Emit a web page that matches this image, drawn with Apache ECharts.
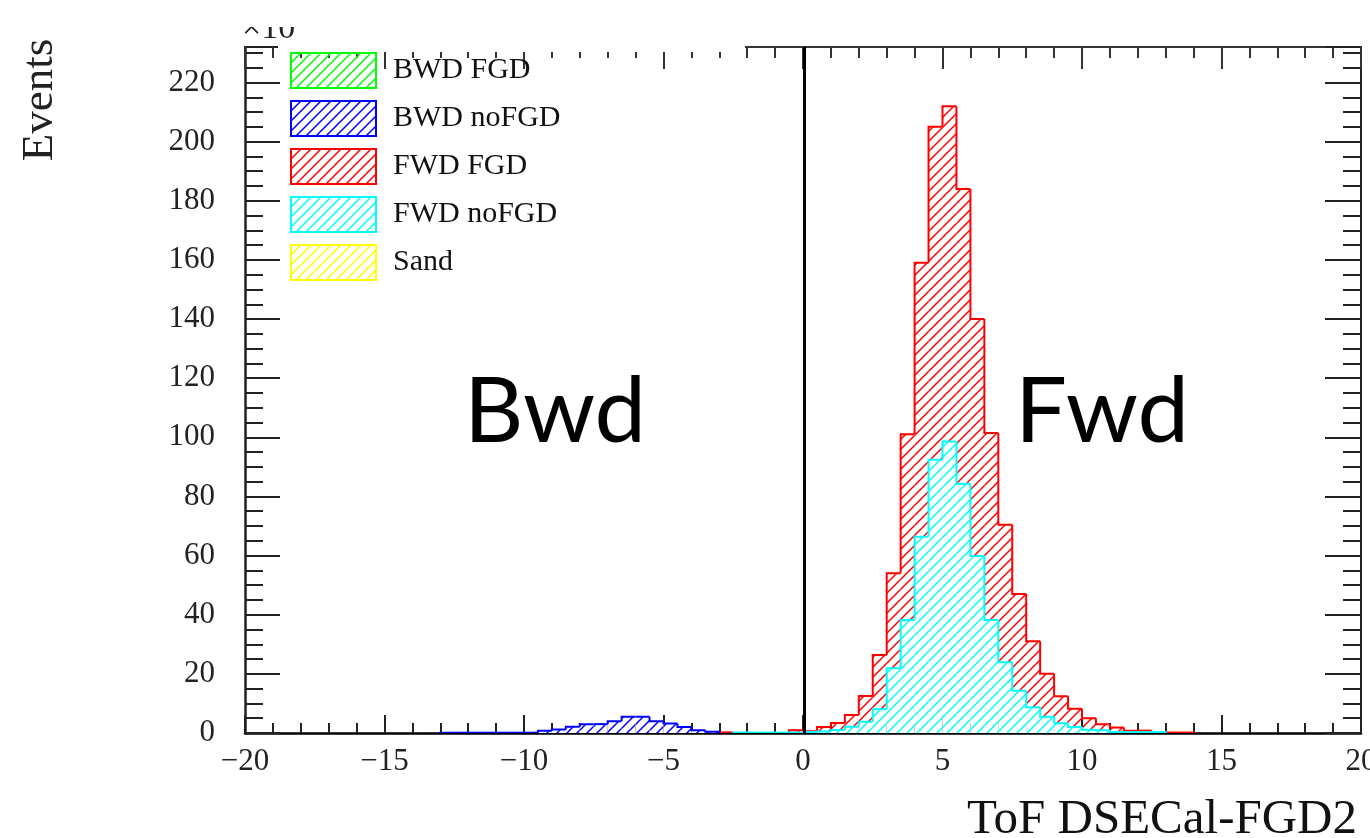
<!DOCTYPE html>
<html>
<head>
<meta charset="utf-8">
<script src="https://cdn.jsdelivr.net/npm/echarts@6/dist/echarts.min.js"></script>
<style>
html,body{margin:0;padding:0;background:#fff;}
#chart{width:1370px;height:838px;}
</style>
</head>
<body>
<div id="chart"></div>
<script>
// ---------------- data (bin contents in units of x10 events) ----------------
const binWidth = 0.5;
const xMin = -20, xMax = 20, yMax = 232;
const seriesNames  = ['BWD FGD', 'BWD noFGD', 'FWD FGD', 'FWD noFGD', 'Sand'];
const seriesColors = ['#00ff00', '#0000ff', '#ff0000', '#00ffff', '#ffff00'];

const bwdFgdStart = 0;
const bwdFgdCounts = [];

const bwdNoFgdStart = -13;
const bwdNoFgdCounts = [0.1, 0.1, 0.1, 0.1, 0.1, 0.1, 0.1,
  0.8, 1.2, 2.1, 3.0, 3.0, 4.0, 5.5, 5.5, 4.0, 3.2, 2.0, 0.9, 0.4];

const fwdFgdStart = -3.5;
const fwdFgdCounts = [0.2, 0.2, 0, 0, 0, 0, 0.9,
  0.6, 2.0, 3.4, 6.1, 12.5, 26.4, 54, 101, 159, 205, 212, 184, 140, 101.5,
  70.4, 47, 31, 20, 12.4, 8.2, 5.0, 3.0, 1.9, 0.8, 0.8, 0.3, 0.2, 0.2];

const fwdNoFgdStart = -2.5;
const fwdNoFgdCounts = [0.15, 0.15, 0.15, 0.15, 0.15,
  0.3, 0.5, 1.0, 2.1, 3.8, 8.0, 21.9, 38.2, 66.4, 92.4, 98.6, 84.3, 59.9, 38.2,
  23.9, 14.3, 8.7, 5.5, 3.3, 2.0, 1.1, 0.9, 0.3, 0.3, 0.3, 0.3];

const sandStart = 0;
const sandCounts = [];

const cutValue = 0.05;
const xTitle = 'ToF DSECal-FGD2';
const yTitle = 'Events';
const yExponent = '×10';
const regionLabels = ['Bwd', 'Fwd'];

// ---------------- helpers ----------------
const serif = "'Liberation Serif', 'Times New Roman', serif";

function makeHatch(color) {
  const c = document.createElement('canvas');
  c.width = 10; c.height = 10;
  const g = c.getContext('2d');
  g.strokeStyle = color;
  g.lineWidth = 1.5;
  g.beginPath();
  g.moveTo(-1, 11); g.lineTo(11, -1);
  g.moveTo(-1, 1); g.lineTo(1, -1);
  g.moveTo(9, 11); g.lineTo(11, 9);
  g.stroke();
  return c;
}
const hatches = seriesColors.map(makeHatch);

function histData(start, counts) {
  return counts.map((v, i) => {
    const x0 = start + i * binWidth;
    const prev = i === 0 ? 0 : counts[i - 1];
    return [x0, x0 + binWidth, v, prev, i === counts.length - 1 ? 1 : 0];
  });
}

function renderer(idx, opaque) {
  const color = seriesColors[idx];
  const pattern = { image: hatches[idx], repeat: 'repeat' };
  return function (params, api) {
    const x0 = api.value(0), x1 = api.value(1), h = api.value(2), hp = api.value(3), last = api.value(4);
    const b = api.coord([x0, 0]);
    const t = api.coord([x1, h]);
    const yp = api.coord([x0, hp])[1];
    const left = b[0], right = t[0], base = b[1], top = t[1];
    const children = [];
    if (opaque) {
      children.push({ type: 'rect', shape: { x: left, y: top, width: right - left, height: base - top }, style: { fill: '#fff' } });
    }
    children.push({ type: 'rect', shape: { x: left, y: top, width: right - left, height: base - top }, style: { fill: pattern } });
    const pts = [[left, yp], [left, top], [right, top]];
    if (last) pts.push([right, base]);
    children.push({ type: 'polyline', shape: { points: pts }, style: { stroke: color, lineWidth: 2, fill: null } });
    return { type: 'group', children: children };
  };
}

function histSeries(idx, start, counts, opaque) {
  return {
    name: seriesNames[idx],
    type: 'custom',
    xAxisIndex: 0, yAxisIndex: 0,
    clip: true,
    itemStyle: { color: seriesColors[idx] },
    encode: { x: [0, 1], y: 2 },
    renderItem: renderer(idx, opaque),
    data: histData(start, counts),
    silent: true
  };
}

const minusFmt = v => (v < 0 ? '\u2212' + Math.abs(v) : String(v));

const chart = echarts.init(document.getElementById('chart'), null, { renderer: 'canvas' });

const option = {
  animation: false,
  backgroundColor: '#fff',
  grid: { left: 245, right: 9, top: 47, bottom: 105, containLabel: false, outerBoundsMode: 'none' },
  xAxis: [{
    type: 'value', min: xMin, max: xMax, interval: 5, position: 'bottom',
    axisLine: { onZero: false, lineStyle: { color: '#000', width: 2.5 } },
    axisTick: { inside: true, length: 18, lineStyle: { color: '#222', width: 2 } },
    minorTick: { show: true, splitNumber: 5, length: 10, lineStyle: { color: '#222', width: 2 } },
    splitLine: { show: false },
    axisLabel: { margin: 13, color: '#222', fontFamily: serif, fontSize: 31, formatter: minusFmt, showMaxLabel: true, showMinLabel: true },
    name: xTitle, nameLocation: 'end', nameGap: -4,
    nameTextStyle: { fontFamily: serif, fontSize: 49, color: '#111', align: 'right', verticalAlign: 'top', padding: [63, 0, 0, 0] }
  }, {
    type: 'value', min: xMin, max: xMax, interval: 5, position: 'top',
    axisLine: { onZero: false, lineStyle: { color: '#333', width: 2 } },
    axisTick: { inside: true, length: 22, lineStyle: { color: '#333', width: 2 } },
    minorTick: { show: true, splitNumber: 5, length: 11, lineStyle: { color: '#333', width: 2 } },
    splitLine: { show: false }, axisLabel: { show: false }
  }],
  yAxis: [{
    type: 'value', min: 0, max: yMax, interval: 20, position: 'left',
    axisLine: { onZero: false, lineStyle: { color: '#222', width: 2.5 } },
    axisTick: { inside: true, length: 35, lineStyle: { color: '#222', width: 2 } },
    minorTick: { show: true, splitNumber: 4, length: 18, lineStyle: { color: '#222', width: 2 } },
    splitLine: { show: false },
    axisLabel: { margin: 30, color: '#222', fontFamily: serif, fontSize: 31, showMaxLabel: false }
  }, {
    type: 'value', min: 0, max: yMax, interval: 20, position: 'right',
    axisLine: { onZero: false, lineStyle: { color: '#222', width: 2 } },
    axisTick: { inside: true, length: 36, lineStyle: { color: '#222', width: 2 } },
    minorTick: { show: true, splitNumber: 4, length: 18, lineStyle: { color: '#222', width: 2 } },
    splitLine: { show: false }, axisLabel: { show: false }
  }],
  legend: {
    orient: 'vertical', left: 290, top: 52, padding: 0,
    itemWidth: 85, itemHeight: 35, itemGap: 11,
    selectedMode: false,
    textStyle: { fontFamily: serif, fontSize: 30, lineHeight: 34, color: '#111', padding: [0, 0, 0, 12] },
    data: seriesNames.map((n, i) => ({
      name: n, icon: 'rect',
      itemStyle: { color: { image: hatches[i], repeat: 'repeat' }, borderColor: seriesColors[i], borderWidth: 2 }
    }))
  },
  series: [
    histSeries(0, bwdFgdStart, bwdFgdCounts, false),
    histSeries(2, fwdFgdStart, fwdFgdCounts, false),
    histSeries(1, bwdNoFgdStart, bwdNoFgdCounts, true),
    histSeries(3, fwdNoFgdStart, fwdNoFgdCounts, true),
    histSeries(4, sandStart, sandCounts, true),
    {
      type: 'line', data: [], silent: true,
      markLine: {
        symbol: 'none', silent: true, label: { show: false },
        lineStyle: { color: '#000', width: 3, type: 'solid' },
        data: [{ xAxis: cutValue }]
      }
    }
  ],
  graphic: [
    { type: 'rect', z: 100, shape: { x: 278, y: 36, width: 467, height: 16 }, style: { fill: '#fff' } },
    { type: 'text', z: 101, x: 242, y: 46, style: { text: yExponent, font: '34px ' + serif, fill: '#222', textAlign: 'left', textVerticalAlign: 'bottom' } },
    { type: 'rect', z: 102, shape: { x: 236, y: 0, width: 70, height: 27 }, style: { fill: '#fff' } },
    { type: 'text', z: 101, x: 40, y: 100, rotation: Math.PI / 2, style: { text: yTitle, font: '45px ' + serif, fill: '#222', textAlign: 'center', textVerticalAlign: 'middle' } },
    { type: 'text', z: 101, x: 555, y: 412, style: { text: regionLabels[0], font: '92px Lato, "Open Sans", sans-serif', fill: '#000', textAlign: 'center', textVerticalAlign: 'middle' } },
    { type: 'text', z: 101, x: 1102, y: 412, style: { text: regionLabels[1], font: '92px Lato, "Open Sans", sans-serif', fill: '#000', textAlign: 'center', textVerticalAlign: 'middle' } }
  ]
};
chart.setOption(option);
</script>
</body>
</html>
